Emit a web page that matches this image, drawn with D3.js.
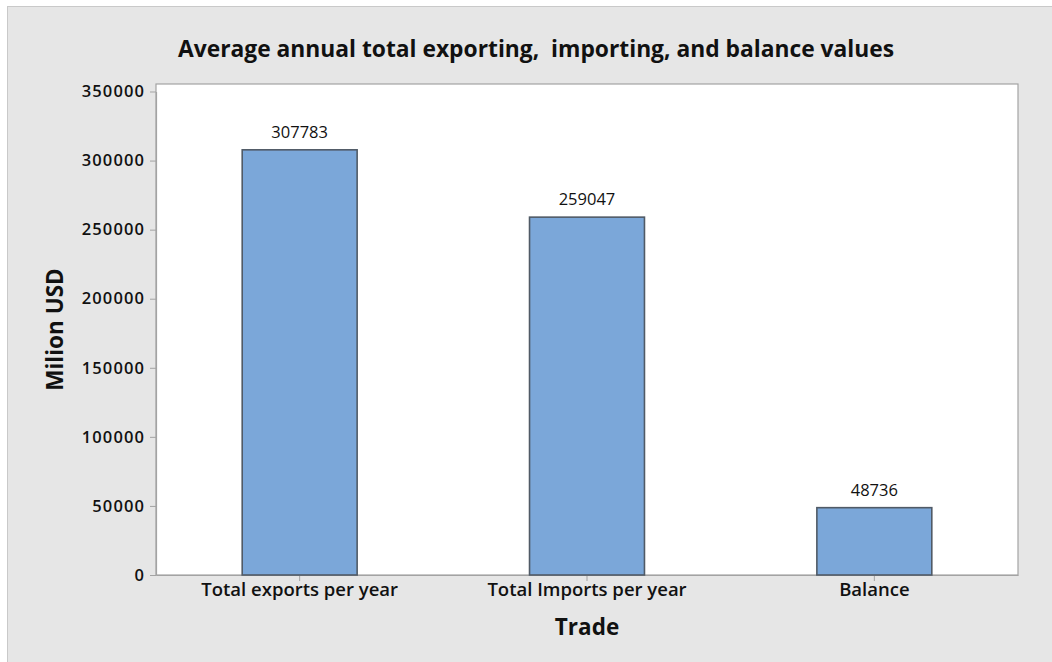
<!DOCTYPE html>
<html><head><meta charset="utf-8">
<script src="https://cdn.jsdelivr.net/npm/d3@7"></script>
<style>body{margin:0;background:#fff}svg{display:block}text{font-family:"Open Sans",sans-serif}</style>
</head><body>
<svg id="c" width="1052" height="662"></svg>
<script>
const categories = ["Total exports per year", "Total Imports per year", "Balance"];
const values = [307783, 259047, 48736];
const yTicks = [0, 50000, 100000, 150000, 200000, 250000, 300000, 350000];
const title = "Average annual total exporting,  importing, and balance values";
const xTitle = "Trade";
const yTitle = "Milion USD";

const svg = d3.select("#c");
const L = 156, R = 1018, T = 84, B = 575;

svg.append("rect").attr("x", 7.5).attr("y", 6.5).attr("width", 1060).attr("height", 670)
  .attr("fill", "#e6e6e6").attr("stroke", "#c9c9c9").attr("stroke-width", 1);

svg.append("rect").attr("x", L).attr("y", T).attr("width", R - L).attr("height", B - T)
  .attr("fill", "#fff").attr("stroke", "#a3a3a3").attr("stroke-width", 1.2);

const x = d3.scaleBand().domain(categories).range([L, R]).paddingInner(0.6).paddingOuter(0.3);
const y = d3.scaleLinear().domain([0, 350000]).range([B, 91.5]);

const yAxis = svg.append("g").attr("transform", `translate(${L},0)`)
  .call(d3.axisLeft(y).tickValues(yTicks).tickSize(6).tickSizeOuter(0).tickPadding(5).tickFormat(d3.format("d")));
yAxis.select(".domain").attr("stroke", "#a3a3a3").attr("stroke-width", 1.2);
yAxis.selectAll(".tick line").attr("stroke", "#a3a3a3");
yAxis.selectAll(".tick text").attr("font-size", "16.5px").attr("font-weight", 600)
  .attr("letter-spacing", "1.1px").attr("fill", "#111").style("font-family", '"Open Sans",sans-serif');

const xAxis = svg.append("g").attr("transform", `translate(0,${B})`)
  .call(d3.axisBottom(x).tickSize(6).tickSizeOuter(0).tickPadding(5));
xAxis.select(".domain").attr("stroke", "#a3a3a3").attr("stroke-width", 1.2);
xAxis.selectAll(".tick line").attr("stroke", "#a3a3a3");
xAxis.selectAll(".tick text").attr("font-size", "18.5px").attr("font-weight", 600)
  .attr("fill", "#111").attr("dy", "0.55em").style("font-family", '"Open Sans",sans-serif');

svg.append("g").selectAll("rect").data(values).join("rect")
  .attr("x", (d, i) => x(categories[i]))
  .attr("y", d => y(d))
  .attr("width", x.bandwidth())
  .attr("height", d => B - y(d))
  .attr("fill", "#7ba7d9").attr("stroke", "#505a66").attr("stroke-width", 1.6);

svg.append("g").selectAll("text").data(values).join("text")
  .attr("x", (d, i) => x(categories[i]) + x.bandwidth() / 2)
  .attr("y", d => y(d) - 12)
  .attr("text-anchor", "middle").attr("font-size", "16.5px").attr("fill", "#111")
  .text(d => d);

svg.append("text").attr("x", 536).attr("y", 57).attr("text-anchor", "middle")
  .style("white-space", "pre")
  .attr("font-size", "22.8px").attr("font-weight", 700).attr("fill", "#111").text(title);

svg.append("text").attr("x", (L + R) / 2).attr("y", 635).attr("text-anchor", "middle")
  .attr("font-size", "22.5px").attr("font-weight", 700).attr("fill", "#111").text(xTitle);

svg.append("text").attr("transform", `translate(63,${(T + B) / 2}) rotate(-90)`)
  .attr("text-anchor", "middle")
  .attr("font-size", "22.5px").attr("font-weight", 700).attr("fill", "#111").text(yTitle);
</script>
</body></html>
